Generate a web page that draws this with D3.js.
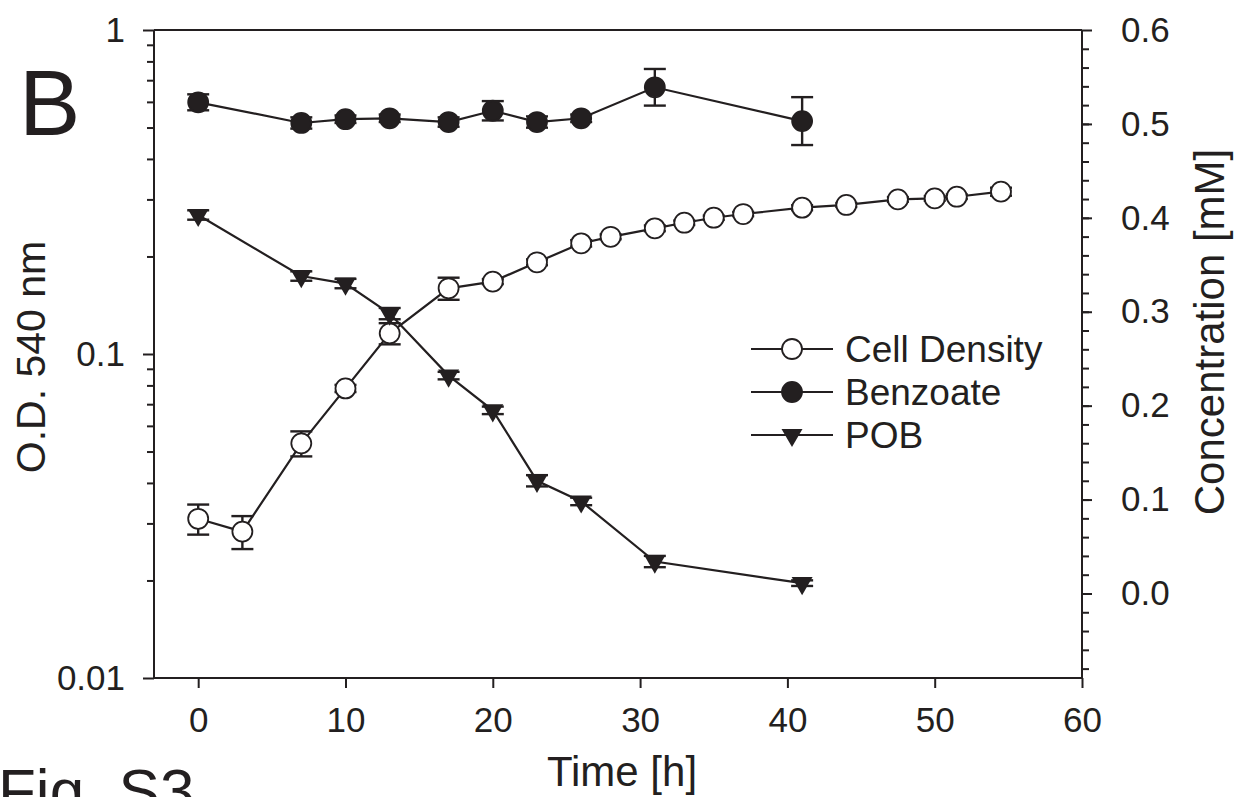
<!DOCTYPE html>
<html lang="en">
<head>
    <meta charset="UTF-8">
    <title>Fig. S3 B</title>
    <script src="https://d3js.org/d3.v7.min.js"></script>
    <style>
        html, body {
            margin: 0;
            padding: 0;
            background: #fff;
        }
        svg text {
            font-family: "Liberation Sans", Arial, sans-serif;
            fill: #231f20;
        }
        .axis path, .axis line {
            stroke: #231f20;
            stroke-width: 2px;
        }
        .axis text {
            font-size: 35px;
        }
        .series path.line {
            fill: none;
            stroke: #231f20;
            stroke-width: 2.2px;
        }
        .err line {
            stroke: #231f20;
            stroke-width: 2.4px;
        }
    </style>
</head>
<body>
<svg width="1236" height="797"></svg>
<script>
    // cell density, O.D. 540 nm (left log axis)
    const timeCell = [0, 3, 7, 10, 13, 17, 20, 23, 26, 28, 31, 33, 35, 37, 41, 44, 47.5, 50, 51.5, 54.5];
    const cellOD   = [0.0310, 0.0283, 0.0530, 0.0783, 0.1158, 0.1595, 0.1673, 0.1919, 0.2196, 0.230,
                      0.2443, 0.2542, 0.2634, 0.2704, 0.2829, 0.2884, 0.300, 0.3022, 0.3058, 0.317];
    const cellErr  = [0.0033, 0.0033, 0.0047, 0.002, 0.0087, 0.0125, 0.003, 0.004, 0.005, 0.004,
                      0.005, 0.004, 0.004, 0.004, 0.005, 0.004, 0.005, 0.005, 0.005, 0.009];

    // benzoate, mM (right axis)
    const timeBenz = [0, 7, 10, 13, 17, 20, 23, 26, 31, 41];
    const benz     = [0.523, 0.501, 0.505, 0.506, 0.502, 0.514, 0.502, 0.506, 0.539, 0.503];
    const benzErr  = [0.0085, 0.006, 0.004, 0.004, 0.005, 0.0103, 0.006, 0.004, 0.0195, 0.0255];

    // POB, mM (right axis)
    const timePOB = [0, 7, 10, 13, 17, 20, 23, 26, 31, 41];
    const pob     = [0.403, 0.338, 0.330, 0.298, 0.232, 0.195, 0.120, 0.098, 0.034, 0.011];
    const pobErr  = [0.005, 0.005, 0.005, 0.006, 0.004, 0.004, 0.006, 0.004, 0.006, 0.003];

    const xTicks = [0, 10, 20, 30, 40, 50, 60];
    const leftTicks = [0.01, 0.1, 1];
    const rightTicks = [0, 0.1, 0.2, 0.3, 0.4, 0.5, 0.6];
    const legendLabels = ["Cell Density", "Benzoate", "POB"];

    const svg = d3.select("svg");
    const pLeft = 154, pRight = 1082, pTop = 30, pBottom = 678;

    const x = d3.scaleLinear().domain([-3, 60]).range([pLeft, pRight]);
    const yL = d3.scaleLog().domain([0.01, 1]).range([pBottom, pTop]);
    const yR = d3.scaleLinear().domain([-0.09, 0.6]).range([pBottom, pTop]);

    // minor ticks
    const minorL = [];
    [0.01, 0.1].forEach(d => { for (let k = 2; k <= 9; k++) minorL.push(d * k); });
    const minorR = d3.range(-4, 30).map(i => i * 0.02);

    // frame top line
    svg.append("line")
        .attr("x1", pLeft).attr("x2", pRight).attr("y1", pTop).attr("y2", pTop)
        .attr("stroke", "#231f20").attr("stroke-width", 2);

    svg.append("g").attr("class", "axis")
        .attr("transform", `translate(${pLeft},0)`)
        .call(d3.axisLeft(yL).tickValues(minorL).tickSize(7).tickFormat(""))
        .call(g => g.select(".domain").remove());
    svg.append("g").attr("class", "axis")
        .attr("transform", `translate(${pLeft},0)`)
        .call(d3.axisLeft(yL).tickValues(leftTicks).tickSize(11).tickPadding(18)
            .tickFormat(d => d === 1 ? "1" : String(d)))
        .call(g => g.select(".domain").attr("d", `M0,${pTop}V${pBottom}`));

    svg.append("g").attr("class", "axis")
        .attr("transform", `translate(${pRight},0)`)
        .call(d3.axisRight(yR).tickValues(minorR).tickSize(7).tickFormat(""))
        .call(g => g.select(".domain").remove());
    svg.append("g").attr("class", "axis")
        .attr("transform", `translate(${pRight},0)`)
        .call(d3.axisRight(yR).tickValues(rightTicks).tickSize(10).tickPadding(29).tickFormat(d3.format(".1f")))
        .call(g => g.select(".domain").attr("d", `M0,${pTop}V${pBottom}`));

    svg.append("g").attr("class", "axis")
        .attr("transform", `translate(0,${pBottom})`)
        .call(d3.axisBottom(x).tickValues(xTicks).tickSize(10).tickPadding(19))
        .call(g => g.select(".domain").attr("d", `M${pLeft},0H${pRight}`));

    // axis titles
    svg.append("text")
        .attr("transform", `translate(45,357) rotate(-90)`)
        .attr("text-anchor", "middle")
        .style("font-size", "41px")
        .text("O.D. 540 nm");
    svg.append("text")
        .attr("transform", `translate(1224,332) rotate(-90)`)
        .attr("text-anchor", "middle")
        .style("font-size", "42px")
        .text("Concentration [mM]");
    svg.append("text")
        .attr("x", 622).attr("y", 786)
        .attr("text-anchor", "middle")
        .style("font-size", "42px")
        .text("Time [h]");

    svg.append("text").attr("x", 19).attr("y", 135)
        .style("font-size", "92px").text("B");
    svg.append("text").attr("x", -2).attr("y", 812)
        .style("font-size", "62px").text("Fig. S3");

    // series
    const tri = d3.symbol().type(d3.symbolTriangle).size(190);
    const series = [
        {t: timeCell, v: cellOD, e: cellErr, y: yL, marker: "open"},
        {t: timeBenz, v: benz, e: benzErr, y: yR, marker: "filled"},
        {t: timePOB, v: pob, e: pobErr, y: yR, marker: "tri"}
    ];

    function drawMarker(g, kind, cx, cy) {
        if (kind === "tri") {
            g.append("path").attr("d", tri())
                .attr("transform", `translate(${cx},${cy}) rotate(180)`)
                .attr("fill", "#231f20");
        } else {
            g.append("circle").attr("cx", cx).attr("cy", cy).attr("r", 10)
                .attr("fill", kind === "open" ? "#fff" : "#231f20")
                .attr("stroke", "#231f20").attr("stroke-width", 1.8);
        }
    }

    series.forEach(s => {
        const g = svg.append("g").attr("class", "series");
        const pts = s.t.map((t, i) => ({t: t, v: s.v[i], e: s.e[i]}));

        g.append("path").attr("class", "line")
            .attr("d", d3.line().x(d => x(d.t)).y(d => s.y(d.v))(pts));

        const eg = g.append("g").attr("class", "err");
        pts.forEach(d => {
            const cx = x(d.t), y1 = s.y(d.v + d.e), y2 = s.y(d.v - d.e);
            eg.append("line").attr("x1", cx).attr("x2", cx).attr("y1", y1).attr("y2", y2);
            eg.append("line").attr("x1", cx - 11).attr("x2", cx + 11).attr("y1", y1).attr("y2", y1);
            eg.append("line").attr("x1", cx - 11).attr("x2", cx + 11).attr("y1", y2).attr("y2", y2);
        });

        pts.forEach(d => drawMarker(g, s.marker, x(d.t), s.y(d.v)));
    });

    // legend
    const lg = svg.append("g");
    legendLabels.forEach((name, i) => {
        const ly = 349 + i * 43;
        lg.append("line").attr("x1", 751).attr("x2", 833).attr("y1", ly).attr("y2", ly)
            .attr("stroke", "#231f20").attr("stroke-width", 2.2);
        drawMarker(lg, series[i].marker, 792, ly);
        lg.append("text").attr("x", 845).attr("y", ly + 13)
            .style("font-size", "37px").text(name);
    });
</script>
</body>
</html>
